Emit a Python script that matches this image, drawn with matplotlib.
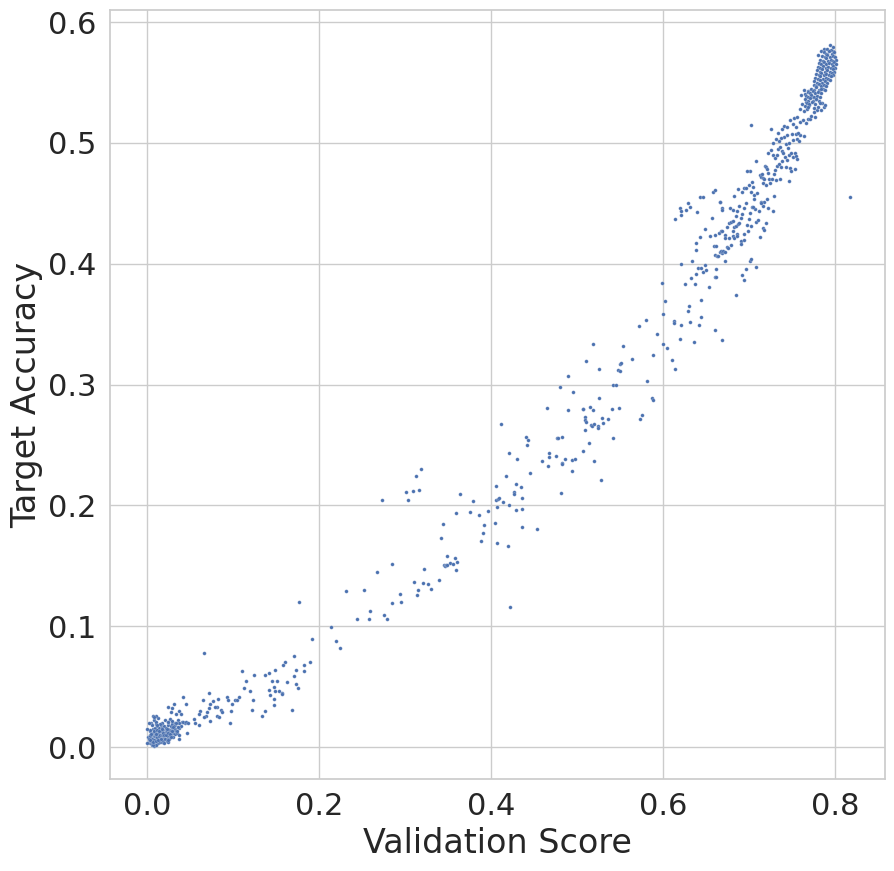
import matplotlib
matplotlib.use("Agg")
import matplotlib.pyplot as plt
import seaborn as sns
import numpy as np

# points, (validation score, target accuracy)

# dense blob near the origin
low_blob = [
    (0.002, 0.004), (0.003, 0.006), (0.004, 0.003), (0.005, 0.008), (0.005, 0.005),
    (0.006, 0.010), (0.006, 0.004), (0.007, 0.007), (0.007, 0.012), (0.008, 0.009),
    (0.008, 0.003), (0.009, 0.006), (0.009, 0.011), (0.010, 0.008), (0.010, 0.004),
    (0.011, 0.013), (0.011, 0.007), (0.012, 0.010), (0.012, 0.005), (0.013, 0.009),
    (0.013, 0.014), (0.014, 0.006), (0.014, 0.011), (0.015, 0.008), (0.015, 0.012),
    (0.016, 0.010), (0.016, 0.005), (0.017, 0.013), (0.017, 0.007), (0.018, 0.011),
    (0.018, 0.009), (0.019, 0.014), (0.019, 0.006), (0.020, 0.012), (0.020, 0.008),
    (0.021, 0.010), (0.022, 0.013), (0.022, 0.007), (0.023, 0.011), (0.024, 0.015),
    (0.025, 0.009), (0.026, 0.012), (0.027, 0.014), (0.028, 0.010), (0.029, 0.016),
    (0.030, 0.012), (0.031, 0.014), (0.032, 0.011), (0.033, 0.015), (0.034, 0.013),
    (0.001, 0.008), (0.003, 0.010), (0.004, 0.013), (0.006, 0.002), (0.007, 0.015),
    (0.008, 0.001), (0.009, 0.016), (0.010, 0.019), (0.011, 0.002), (0.012, 0.017),
    (0.013, 0.003), (0.014, 0.016), (0.015, 0.004), (0.016, 0.018), (0.017, 0.004),
    (0.018, 0.016), (0.019, 0.005), (0.020, 0.017), (0.021, 0.007), (0.022, 0.016),
    (0.023, 0.005), (0.024, 0.008), (0.025, 0.018), (0.026, 0.007), (0.027, 0.009),
    (0.028, 0.017), (0.030, 0.008), (0.032, 0.018), (0.035, 0.012), (0.037, 0.016),
    (0.005, 0.020), (0.008, 0.022), (0.011, 0.021), (0.013, 0.024), (0.018, 0.020),
    (0.021, 0.022), (0.024, 0.021), (0.027, 0.023), (0.029, 0.019), (0.033, 0.020),
    (0.036, 0.022), (0.039, 0.017), (0.041, 0.021), (0.044, 0.020), (0.003, 0.014),
    (0.006, 0.018), (0.010, 0.026), (0.015, 0.019), (0.020, 0.003), (0.025, 0.004),
    (0.004, 0.009), (0.006, 0.007), (0.008, 0.006), (0.009, 0.009), (0.011, 0.010),
    (0.012, 0.008), (0.013, 0.011), (0.014, 0.009), (0.015, 0.010), (0.016, 0.013),
    (0.017, 0.010), (0.018, 0.013), (0.019, 0.010), (0.021, 0.012), (0.023, 0.013),
    (0.024, 0.010), (0.026, 0.014), (0.028, 0.013), (0.011, 0.002), (0.007, 0.002),
    (0.002, 0.007), (0.004, 0.006), (0.005, 0.011), (0.007, 0.004), (0.008, 0.013),
    (0.010, 0.011), (0.011, 0.005), (0.012, 0.014), (0.013, 0.006), (0.014, 0.013),
    (0.016, 0.007), (0.017, 0.015), (0.019, 0.012), (0.020, 0.010), (0.022, 0.010),
    (0.023, 0.015), (0.025, 0.012), (0.027, 0.011), (0.029, 0.013), (0.031, 0.017),
]

# sparse points for scores up to ~0.25
low_spread = [
    (0.177, 0.120), (0.214, 0.099), (0.220, 0.088), (0.2244, 0.0817), (0.192, 0.089),
    (0.0667, 0.0775), (0.171, 0.075), (0.190, 0.070), (0.183, 0.068), (0.161, 0.070),
    (0.158, 0.068), (0.111, 0.063), (0.125, 0.060), (0.1376, 0.060), (0.142, 0.061),
    (0.149, 0.0635), (0.1736, 0.064), (0.183, 0.063), (0.1155, 0.055), (0.1457, 0.055),
    (0.1515, 0.055), (0.171, 0.0585), (0.163, 0.0535), (0.148, 0.050), (0.113, 0.049),
    (0.1736, 0.052), (0.176, 0.049), (0.142, 0.047), (0.149, 0.046), (0.154, 0.046),
    (0.157, 0.045), (0.157, 0.0435), (0.120, 0.046), (0.1434, 0.0427), (0.148, 0.040),
    (0.1237, 0.0386), (0.148, 0.0345), (0.1225, 0.031), (0.1376, 0.0295), (0.134, 0.026),
    (0.169, 0.031), (0.042, 0.041), (0.0457, 0.036), (0.0725, 0.0444), (0.0655, 0.0393),
    (0.0771, 0.0378), (0.0736, 0.0353), (0.0829, 0.040), (0.0817, 0.0327), (0.0864, 0.031),
    (0.0876, 0.0286), (0.0934, 0.041), (0.0945, 0.0393), (0.1027, 0.0386), (0.105, 0.0386),
    (0.1073, 0.0418), (0.0992, 0.036), (0.098, 0.0295), (0.0969, 0.0195), (0.0248, 0.0329),
    (0.0294, 0.032), (0.0317, 0.0352), (0.0376, 0.0295), (0.0283, 0.0286), (0.0341, 0.027),
    (0.0399, 0.027), (0.062, 0.0295), (0.0609, 0.027), (0.069, 0.026), (0.070, 0.0287),
    (0.0725, 0.032), (0.0795, 0.0328), (0.0818, 0.026), (0.084, 0.0246), (0.0736, 0.0218),
    (0.0667, 0.025), (0.055, 0.0229), (0.056, 0.0196), (0.061, 0.018), (0.047, 0.0113),
    (0.0376, 0.0196), (0.042, 0.0204), (0.0457, 0.0204), (0.048, 0.0196), (0.0066, 0.026),
    (0.0085, 0.025), (0.0027, 0.0196), (0.0004, 0.0146), (0.000, 0.003), (0.0116, 0.0185),
    (0.0248, 0.021), (0.0295, 0.0218), (0.0341, 0.0201), (0.0306, 0.0168), (0.0364, 0.0168),
    (0.0353, 0.0135), (0.0376, 0.0102), (0.0376, 0.0069), (0.0283, 0.0086), (0.0248, 0.0058),
]

# middle of the band, scores 0.23 - 0.55
mid_band = [
    (0.4806, 0.2977), (0.4957, 0.2936), (0.4655, 0.2804), (0.4899, 0.2787), (0.5074, 0.2795),
    (0.5147, 0.2812), (0.5097, 0.2729), (0.5097, 0.2707), (0.5109, 0.2688), (0.5097, 0.2621),
    (0.5143, 0.2514), (0.5074, 0.2448), (0.4120, 0.2671), (0.4411, 0.2563), (0.4434, 0.2539),
    (0.4422, 0.2497), (0.4771, 0.2555), (0.4783, 0.2555), (0.4829, 0.2563), (0.4213, 0.2431),
    (0.4306, 0.2381), (0.4597, 0.2365), (0.4678, 0.2431), (0.4678, 0.2398), (0.4760, 0.2406),
    (0.4667, 0.2323), (0.4864, 0.2381), (0.4829, 0.2348), (0.4829, 0.2340), (0.4946, 0.2373),
    (0.4981, 0.2381), (0.4946, 0.2282), (0.4457, 0.2265), (0.4178, 0.2241), (0.4062, 0.2158),
    (0.4295, 0.2174), (0.4353, 0.2150), (0.4271, 0.2108), (0.4271, 0.2092), (0.4818, 0.2100),
    (0.4062, 0.2042), (0.4085, 0.2050), (0.4097, 0.2058), (0.4143, 0.2025), (0.4364, 0.2058),
    (0.4213, 0.2000), (0.4074, 0.1984), (0.4295, 0.1959), (0.4364, 0.1967), (0.3969, 0.1951),
    (0.3864, 0.1918), (0.3760, 0.1943), (0.3597, 0.1934), (0.3922, 0.1835), (0.4050, 0.1852),
    (0.4364, 0.1818), (0.4539, 0.1802), (0.3910, 0.1769), (0.3888, 0.1703), (0.4074, 0.1686),
    (0.4202, 0.1661), (0.3446, 0.1843), (0.3422, 0.1727), (0.3492, 0.1578), (0.3585, 0.1562),
    (0.3609, 0.1529), (0.3527, 0.1520), (0.3562, 0.1512), (0.3457, 0.1504), (0.3469, 0.1496),
    (0.3480, 0.1504), (0.3492, 0.1504), (0.3597, 0.1462), (0.2853, 0.1512), (0.2678, 0.1446),
    (0.3225, 0.1471), (0.3399, 0.1380), (0.3109, 0.1363), (0.3213, 0.1355), (0.3271, 0.1347),
    (0.3306, 0.1305), (0.3155, 0.1297), (0.2946, 0.1264), (0.3143, 0.1256), (0.2318, 0.1289),
    (0.2527, 0.1297), (0.2853, 0.1189), (0.2957, 0.1197), (0.2597, 0.1123), (0.2760, 0.1090),
    (0.2446, 0.1060), (0.2585, 0.1057), (0.2795, 0.1057), (0.4217, 0.1156), (0.3190, 0.2299),
    (0.3132, 0.2241), (0.3016, 0.2108), (0.3097, 0.2116), (0.3167, 0.2125), (0.2736, 0.2042),
    (0.3039, 0.2042), (0.3643, 0.2092), (0.3795, 0.2034), (0.5200, 0.2365), (0.5422, 0.2555),
    (0.5283, 0.2208),
]

# upper band, scores 0.49 - 0.73
upper_band = [
    (0.4899, 0.3068), (0.5109, 0.3193), (0.5190, 0.3333), (0.5260, 0.3126), (0.5260, 0.2886),
    (0.5074, 0.2795), (0.5190, 0.2787), (0.5167, 0.2663), (0.5178, 0.2655), (0.5202, 0.2671),
    (0.5248, 0.2655), (0.5248, 0.2638), (0.5295, 0.2721), (0.5306, 0.2679), (0.5364, 0.2712),
    (0.5410, 0.2795), (0.5492, 0.2804), (0.5736, 0.2712), (0.5760, 0.2745), (0.5818, 0.3027),
    (0.5876, 0.2886), (0.5888, 0.2870), (0.5422, 0.2994), (0.5457, 0.2994), (0.5480, 0.3118),
    (0.5504, 0.3110), (0.5504, 0.3168), (0.5516, 0.3176), (0.5636, 0.3209), (0.5539, 0.3317),
    (0.5888, 0.3242), (0.5725, 0.3482), (0.5806, 0.3532), (0.5934, 0.3416), (0.6004, 0.3333),
    (0.6050, 0.3300), (0.6004, 0.3582), (0.6027, 0.3689), (0.5992, 0.3838), (0.6108, 0.3201),
    (0.6143, 0.3126), (0.6132, 0.3526), (0.6132, 0.3507), (0.6213, 0.3491), (0.6202, 0.3375),
    (0.6295, 0.3609), (0.6306, 0.3648), (0.6318, 0.3515), (0.6364, 0.3350), (0.6422, 0.3491),
    (0.6446, 0.3557), (0.6446, 0.3698), (0.6609, 0.3449), (0.6690, 0.3366), (0.6853, 0.3742),
    (0.6260, 0.3830), (0.6376, 0.3830), (0.6329, 0.3880), (0.6388, 0.3913), (0.6411, 0.3962),
    (0.6446, 0.3962), (0.6469, 0.3929), (0.6504, 0.3946), (0.6492, 0.3987), (0.6539, 0.3805),
    (0.6609, 0.3888), (0.6620, 0.3888), (0.6620, 0.3954), (0.6213, 0.3996), (0.6340, 0.4020),
    (0.6922, 0.3905), (0.6946, 0.3863), (0.6969, 0.3954), (0.7016, 0.4020), (0.7027, 0.4037),
    (0.7085, 0.3971), (0.6143, 0.4368), (0.6202, 0.4459), (0.6213, 0.4434), (0.6213, 0.4401),
    (0.6271, 0.4443), (0.6295, 0.4501), (0.6318, 0.4468), (0.6400, 0.4426), (0.6380, 0.4169),
    (0.6388, 0.4111), (0.6434, 0.4219), (0.6492, 0.4285), (0.6550, 0.4227), (0.6574, 0.4376),
    (0.6609, 0.4236), (0.6655, 0.4252), (0.6667, 0.4509), (0.6690, 0.4459), (0.6690, 0.4443),
    (0.6597, 0.4146), (0.6620, 0.4146), (0.6609, 0.4070), (0.6632, 0.4062), (0.6643, 0.4062),
    (0.6667, 0.4095), (0.6690, 0.4087), (0.6678, 0.4103), (0.6702, 0.4103), (0.6725, 0.4095),
    (0.6748, 0.4137), (0.6760, 0.4128), (0.6795, 0.4153), (0.6678, 0.4268), (0.6690, 0.4268),
    (0.6725, 0.4236), (0.6725, 0.4211), (0.6771, 0.4211), (0.6725, 0.4020), (0.6748, 0.4306),
    (0.6771, 0.4335), (0.6795, 0.4343), (0.6818, 0.4352), (0.6818, 0.4268), (0.6829, 0.4302),
    (0.6853, 0.4310), (0.6876, 0.4327), (0.6888, 0.4335), (0.6818, 0.4227), (0.6829, 0.4211),
    (0.6864, 0.4244), (0.6864, 0.4227), (0.6911, 0.4186), (0.6946, 0.4194), (0.6911, 0.4161),
    (0.6946, 0.4244), (0.6992, 0.4268), (0.6783, 0.4459), (0.6818, 0.4443), (0.6864, 0.4434),
    (0.6888, 0.4476), (0.6946, 0.4459), (0.6969, 0.4501), (0.7039, 0.4467), (0.7074, 0.4451),
    (0.7120, 0.4434), (0.7167, 0.4476), (0.7143, 0.4509), (0.7283, 0.4434), (0.7202, 0.4335),
    (0.7167, 0.4294), (0.7178, 0.4277), (0.7132, 0.4219), (0.7085, 0.4343), (0.7109, 0.4360),
    (0.7027, 0.4310), (0.6981, 0.4318), (0.7004, 0.4368), (0.7016, 0.4418), (0.6922, 0.4410),
    (0.6911, 0.4376), (0.6853, 0.4393),
]

# top band, scores 0.64 - 0.79
top_band = [
    (0.8178, 0.4553), (0.7027, 0.5146), (0.6434, 0.4550), (0.6469, 0.4550), (0.6585, 0.4592),
    (0.6609, 0.4608), (0.6667, 0.4509), (0.6829, 0.4561), (0.6876, 0.4616), (0.6922, 0.4592),
    (0.6946, 0.4625), (0.6969, 0.4625), (0.7027, 0.4592), (0.7062, 0.4567), (0.7062, 0.4534),
    (0.7050, 0.4633), (0.7097, 0.4583), (0.7004, 0.4650), (0.7039, 0.4674), (0.7016, 0.4766),
    (0.6981, 0.4766), (0.7085, 0.4848), (0.7132, 0.4732), (0.7143, 0.4716), (0.7155, 0.4741),
    (0.7167, 0.4708), (0.7178, 0.4699), (0.7190, 0.4807), (0.7202, 0.4798), (0.7213, 0.4782),
    (0.7225, 0.4749), (0.7236, 0.4699), (0.7248, 0.4666), (0.7167, 0.4666), (0.7202, 0.4650),
    (0.7271, 0.4704), (0.7295, 0.4741), (0.7318, 0.4691), (0.7364, 0.4699), (0.7469, 0.4683),
    (0.7306, 0.4774), (0.7329, 0.4807), (0.7353, 0.4823), (0.7376, 0.4798), (0.7388, 0.4848),
    (0.7434, 0.4798), (0.7481, 0.4790), (0.7492, 0.4766), (0.7539, 0.4782), (0.7295, 0.4558),
    (0.7213, 0.4534), (0.7178, 0.4509), (0.7143, 0.4500), (0.7050, 0.4467), (0.7225, 0.4459),
    (0.7225, 0.4914), (0.7260, 0.4939), (0.7283, 0.4898), (0.7306, 0.4873), (0.7329, 0.4898),
    (0.7341, 0.4948), (0.7364, 0.4964), (0.7388, 0.4931), (0.7399, 0.4914), (0.7422, 0.4881),
    (0.7446, 0.4856), (0.7469, 0.4898), (0.7492, 0.4914), (0.7516, 0.4881), (0.7539, 0.4914),
    (0.7550, 0.4890), (0.7562, 0.4865), (0.7457, 0.4956), (0.7434, 0.4989), (0.7469, 0.4997),
    (0.7516, 0.5022), (0.7562, 0.5030), (0.7585, 0.5014), (0.7597, 0.5064), (0.7643, 0.5055),
    (0.7550, 0.5072), (0.7574, 0.5080), (0.7504, 0.5072), (0.7446, 0.5064), (0.7411, 0.5047),
    (0.7376, 0.5039), (0.7353, 0.5014), (0.7318, 0.5030), (0.7283, 0.4997), (0.7260, 0.5113),
    (0.7341, 0.5080), (0.7388, 0.5113), (0.7411, 0.5138), (0.7446, 0.5130), (0.7481, 0.5188),
    (0.7516, 0.5155), (0.7550, 0.5130), (0.7527, 0.5204), (0.7562, 0.5213), (0.7597, 0.5171),
    (0.7632, 0.5188), (0.7667, 0.5163), (0.7690, 0.5196), (0.7713, 0.5196), (0.7725, 0.5221),
    (0.7771, 0.5213), (0.7795, 0.5270), (0.7760, 0.5254), (0.7643, 0.5262), (0.7597, 0.5279),
    (0.7620, 0.5320), (0.7655, 0.5304), (0.7678, 0.5279), (0.7702, 0.5312), (0.7667, 0.5337),
    (0.7609, 0.5395), (0.7643, 0.5436), (0.7655, 0.5403), (0.7690, 0.5428), (0.7725, 0.5395),
    (0.7748, 0.5378), (0.7783, 0.5362), (0.7818, 0.5345), (0.7853, 0.5329), (0.7876, 0.5296),
    (0.7841, 0.5270), (0.7888, 0.5312), (0.7818, 0.5420), (0.7864, 0.5444),
]

# dense cap at the top right
top_blob = [
    (0.7941, 0.5809), (0.7876, 0.5775), (0.7841, 0.5759), (0.7911, 0.5734), (0.7981, 0.5759),
    (0.7806, 0.5726), (0.791, 0.578), (0.795, 0.577), (0.798, 0.579),
    (0.787, 0.575), (0.790, 0.574), (0.793, 0.576), (0.796, 0.574), (0.799, 0.575),
    (0.785, 0.572), (0.788, 0.571), (0.791, 0.573), (0.794, 0.571), (0.797, 0.572), (0.800, 0.571),
    (0.783, 0.569), (0.786, 0.568), (0.789, 0.570), (0.792, 0.568), (0.795, 0.569), (0.798, 0.568),
    (0.801, 0.569),
    (0.781, 0.566), (0.784, 0.565), (0.787, 0.567), (0.790, 0.565), (0.793, 0.566), (0.796, 0.565),
    (0.799, 0.567), (0.801, 0.565),
    (0.780, 0.563), (0.783, 0.562), (0.786, 0.564), (0.789, 0.562), (0.792, 0.563), (0.795, 0.562),
    (0.798, 0.564), (0.800, 0.562),
    (0.779, 0.560), (0.782, 0.559), (0.785, 0.561), (0.788, 0.559), (0.791, 0.560), (0.794, 0.559),
    (0.797, 0.561), (0.799, 0.559),
    (0.778, 0.557), (0.781, 0.556), (0.784, 0.558), (0.787, 0.556), (0.790, 0.557), (0.793, 0.556),
    (0.796, 0.558), (0.798, 0.556),
    (0.777, 0.554), (0.780, 0.553), (0.783, 0.555), (0.786, 0.553), (0.789, 0.554), (0.792, 0.553),
    (0.795, 0.555),
    (0.776, 0.551), (0.779, 0.550), (0.782, 0.552), (0.785, 0.550), (0.788, 0.551), (0.791, 0.550),
    (0.794, 0.552),
    (0.775, 0.548), (0.778, 0.547), (0.781, 0.549), (0.784, 0.547), (0.787, 0.548), (0.790, 0.547),
    (0.772, 0.545), (0.775, 0.544), (0.778, 0.546), (0.781, 0.544), (0.784, 0.545), (0.788, 0.544),
    (0.768, 0.542), (0.771, 0.541), (0.774, 0.543), (0.777, 0.541), (0.780, 0.542), (0.784, 0.541),
    (0.766, 0.539), (0.769, 0.538), (0.772, 0.540), (0.776, 0.538), (0.779, 0.539), (0.782, 0.538),
    (0.765, 0.536), (0.768, 0.535), (0.771, 0.537), (0.774, 0.535), (0.778, 0.536),
    (0.767, 0.533), (0.770, 0.532), (0.773, 0.534), (0.777, 0.532), (0.782, 0.533),
    (0.769, 0.530), (0.775, 0.529), (0.780, 0.530),
]

groups = [low_blob, low_spread, mid_band, upper_band, top_band, top_blob]
pts = np.array([p for g in groups for p in g])

sns.set_theme(style="whitegrid", font_scale=2)

fig = plt.figure(figsize=(8.95, 8.71), dpi=100)
ax = fig.add_axes([0.1229, 0.1056, 0.8659, 0.8829])

ax.scatter(pts[:, 0], pts[:, 1], s=7, color="#4c72b0", edgecolor="white", linewidth=0.15)

ax.set_xlim(-0.043, 0.858)
ax.set_ylim(-0.0265, 0.610)
ax.set_xticks([0.0, 0.2, 0.4, 0.6, 0.8])
ax.set_yticks([0.0, 0.1, 0.2, 0.3, 0.4, 0.5, 0.6])
ax.set_xlabel("Validation Score")
ax.set_ylabel("Target Accuracy")

fig.savefig("out.png", dpi=100)
